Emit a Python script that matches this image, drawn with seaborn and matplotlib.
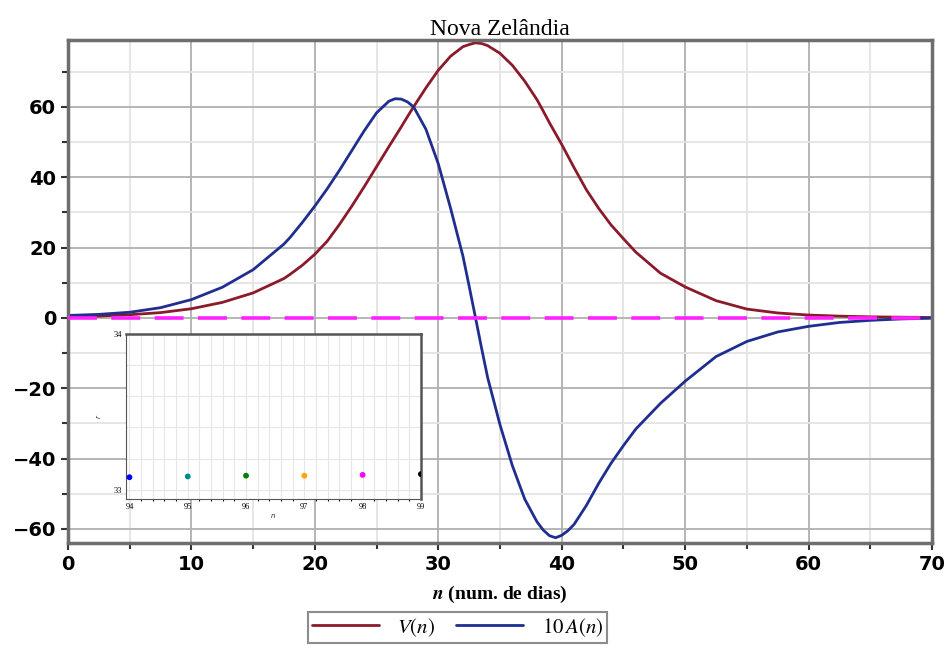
import numpy as np
import pandas as pd
import matplotlib
matplotlib.use("Agg")
import matplotlib.pyplot as plt
import seaborn as sns
from matplotlib.ticker import MultipleLocator

n_dias = [0, 2.5, 5, 7.5, 10, 12.5, 15, 17.5, 18, 19, 20, 21, 22, 23, 24, 25, 26, 26.5, 27, 27.5,
          28, 29, 30, 31, 32, 32.5, 33, 33.5, 34, 35, 36, 37, 38, 38.5, 39, 39.5, 40, 40.5, 41,
          42, 43, 44, 45, 46, 48, 50, 52.5, 55, 57.5, 60, 62.5, 65, 67.5, 70]
v_n = [0.3, 0.5, 0.9, 1.5, 2.6, 4.4, 7.1, 11.2, 12.4, 15.0, 18.1, 21.8, 26.6, 31.8, 37.3, 43.0,
       48.7, 51.5, 54.3, 57.2, 60.0, 65.4, 70.4, 74.4, 77.1, 77.7, 78.2, 78.0, 77.4, 75.2, 71.8,
       67.3, 62.0, 58.8, 55.5, 52.4, 49.3, 46.0, 42.7, 36.4, 31.1, 26.4, 22.5, 18.7, 12.7, 8.8,
       4.9, 2.5, 1.4, 0.8, 0.5, 0.3, 0.2, 0.1]
a10_n = [0.7, 1.0, 1.6, 2.9, 5.2, 8.7, 13.7, 21.0, 22.9, 27.2, 31.8, 36.7, 42.0, 47.6, 53.2, 58.3,
         61.6, 62.3, 62.2, 61.4, 60.0, 53.6, 43.8, 31.1, 17.5, 9.0, 0.3, -8.5, -17.0, -30.4, -42.0,
         -51.5, -58.0, -60.3, -61.9, -62.5, -61.8, -60.5, -58.7, -53.3, -47.0, -41.3, -36.3,
         -31.6, -24.3, -18.0, -11.0, -6.7, -4.0, -2.4, -1.3, -0.7, -0.3, -0.1]

# inset points
inset_n = [94, 95, 96, 97, 98, 99]
inset_r = [33.08, 33.085, 33.09, 33.09, 33.095, 33.10]
inset_colors = ["#0000ff", "#008b8b", "#008000", "#ffa500", "#ff00ff", "#000000"]

df = pd.DataFrame({"n": n_dias, "V": v_n, "A10": a10_n})

sns.set_theme(style="white")
plt.rcParams["font.family"] = ["DejaVu Sans"]
plt.rcParams["mathtext.fontset"] = "stix"
plt.rcParams["text.color"] = "black"
plt.rcParams["xtick.color"] = "black"
plt.rcParams["ytick.color"] = "black"

fig = plt.figure(figsize=(9.47, 6.48), dpi=100)
ax = fig.add_axes([0.0718, 0.162, 0.9124, 0.7763])

sns.lineplot(data=df, x="n", y="V", ax=ax, color="#8b1a2b", lw=2, label=r"$V(n)$")
sns.lineplot(data=df, x="n", y="A10", ax=ax, color="#1f2e8f", lw=2, label=r"$10\,A(n)$")
ax.axhline(0, color="#ff22ff", lw=2.6, dashes=(8, 4), zorder=3)

ax.set_xlim(0, 70)
ax.set_ylim(-64, 79)
ax.xaxis.set_major_locator(MultipleLocator(10))
ax.xaxis.set_minor_locator(MultipleLocator(5))
ax.yaxis.set_major_locator(MultipleLocator(20))
ax.yaxis.set_minor_locator(MultipleLocator(10))
ax.grid(which="major", color="#b0b0b0", lw=1.3)
ax.grid(which="minor", color="#e4e4e4", lw=1.3)
ax.tick_params(which="major", direction="out", length=5, width=1.5, color="#333333",
               labelsize=14, labelcolor="black", bottom=True, left=True)
ax.tick_params(which="minor", direction="out", length=4, width=1.5, color="#333333",
               bottom=True, left=True)
for lab in ax.get_xticklabels() + ax.get_yticklabels():
    lab.set_fontweight("bold")
for s in ax.spines.values():
    s.set_color("#6e6e6e")
    s.set_linewidth(2.5)

ax.set_title("Nova Zelândia", family="Liberation Serif", fontsize=17, pad=3, color="black")
ax.set_xlabel(r"$\mathbfit{n}$ (num. de dias)", family="Liberation Serif", fontweight="bold",
              fontsize=14, labelpad=7, color="black")
ax.set_ylabel("")

ax.get_legend().remove()
handles, labels = ax.get_legend_handles_labels()
leg = fig.legend(handles[:2], labels[:2], loc="lower center", bbox_to_anchor=(0.483, -0.008),
                 ncol=2, frameon=True, fancybox=False, fontsize=15, handlelength=3.2,
                 borderpad=0.2, columnspacing=1.0, handletextpad=0.9)
leg.get_frame().set_edgecolor("#707070")
leg.get_frame().set_linewidth(1.5)

# inset
ins = fig.add_axes([0.133, 0.2299, 0.3115, 0.2546])
ins.set_facecolor("white")
ins.scatter(inset_n, inset_r, c=inset_colors, s=10, zorder=3)
ins.set_xlim(93.94, 99.0)
ins.set_ylim(32.94, 34.0)
ins.set_xticks(inset_n)
ins.xaxis.set_minor_locator(MultipleLocator(0.2))
ins.set_yticks([33, 34])
ins.yaxis.set_minor_locator(MultipleLocator(0.2))
ins.grid(which="both", color="#e6e6e6", lw=0.8)
ins.tick_params(which="major", labelsize=6, length=2, width=0.8, pad=1)
ins.tick_params(which="minor", length=1.5, width=0.8, bottom=True)
for lab in ins.get_xticklabels() + ins.get_yticklabels():
    lab.set_family("Liberation Serif")
for name, s in ins.spines.items():
    s.set_color("#555555")
    s.set_linewidth(1.8 if name in ("top", "right") else 0.8)
ins.set_xlabel("n", fontsize=5, style="italic", labelpad=1)
ins.set_ylabel("r", fontsize=5, style="italic", labelpad=8)

fig.savefig("out.png", dpi=100)
